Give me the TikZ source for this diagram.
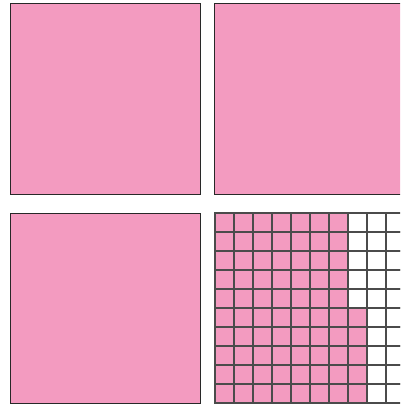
\documentclass[tikz,border=0pt]{standalone}
\definecolor{blockpink}{RGB}{243,155,192}
\definecolor{edgegray}{RGB}{40,40,40}
\definecolor{gridgray}{RGB}{75,75,75}
\begin{document}
\begin{tikzpicture}[x=1pt,y=-1pt,square/.style={fill=blockpink,draw=edgegray,line width=1pt},cell/.style={draw=gridgray,line width=1.1pt}]
\useasboundingbox (0,0) rectangle (400,404);
\clip (0,0) rectangle (400,404);
% three full hundreds
\draw[square] (10,4) rectangle (200,194);
\draw[square] (214,4) rectangle (404,194);
\draw[square] (10,213) rectangle (200,403);
% partly filled hundred grid
\foreach \r in {0,...,9}{
  \pgfmathtruncatemacro{\n}{\r<5 ? 7 : 8}
  \foreach \c in {0,...,9}{
    \ifnum\c<\n
      \draw[cell,fill=blockpink] ({215+19*\c},{213+19*\r}) rectangle ++(19,19);
    \else
      \draw[cell,fill=white] ({215+19*\c},{213+19*\r}) rectangle ++(19,19);
    \fi
  }
}
\end{tikzpicture}
\end{document}
